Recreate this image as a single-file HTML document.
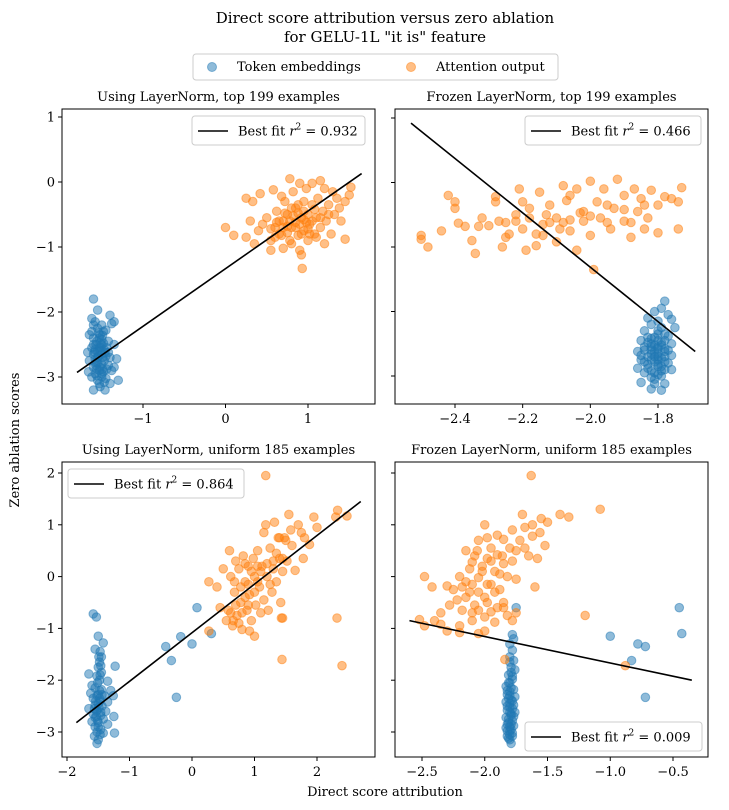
<!DOCTYPE html>
<html><head><meta charset="utf-8">
<style>
body{margin:0;background:#fff;}
svg{display:block;font-family:"DejaVu Serif","Liberation Serif",serif;}
.tk{font-size:13px;fill:#000;}
</style></head>
<body>
<svg id="fig" width="729" height="810" viewBox="0 0 729 810" xmlns="http://www.w3.org/2000/svg">
<text x="385" y="23" text-anchor="middle" font-size="15">Direct score attribution versus zero ablation</text>
<text x="385" y="42" text-anchor="middle" font-size="15">for GELU-1L "it is" feature</text>
<g>
<rect x="193" y="54" width="365" height="26" rx="3" fill="#fff" stroke="#ccc"/>
<circle cx="212" cy="67" r="4.5" fill="#1f77b4" fill-opacity="0.5" stroke="#1f77b4" stroke-opacity="0.5"/>
<text x="237" y="71" font-size="13">Token embeddings</text>
<circle cx="411" cy="67" r="4.5" fill="#ff7f0e" fill-opacity="0.5" stroke="#ff7f0e" stroke-opacity="0.5"/>
<text x="436" y="71" font-size="13">Attention output</text>
</g>
<text transform="translate(19,440) rotate(-90)" text-anchor="middle" font-size="13">Zero ablation scores</text>
<text x="385" y="796" text-anchor="middle" font-size="13">Direct score attribution</text>
</svg>
<script>
// ---- Panel 1: Using LayerNorm, top 199 ----
const p1Blue = [[-1.6,-1.8],[-1.55,-1.97],[-1.4,-2.05],[-1.35,-2.15],[-1.38,-2.18],[-1.62,-2.1],[-1.58,-2.15],[-1.6,-2.2],[-1.55,-2.25],[-1.48,-2.3],[-1.45,-2.28],[-1.52,-2.35],[-1.65,-2.35],[-1.6,-2.4],[-1.5,-2.42],[-1.42,-2.45],[-1.35,-2.5],[-1.57,-2.5],[-1.62,-2.55],[-1.53,-2.55],[-1.47,-2.58],[-1.55,-2.6],[-1.67,-2.62],[-1.6,-2.65],[-1.5,-2.65],[-1.45,-2.68],[-1.4,-2.7],[-1.32,-2.72],[-1.58,-2.72],[-1.65,-2.75],[-1.55,-2.78],[-1.5,-2.8],[-1.42,-2.82],[-1.35,-2.85],[-1.6,-2.85],[-1.53,-2.9],[-1.48,-2.92],[-1.38,-2.9],[-1.66,-2.92],[-1.58,-2.95],[-1.5,-3.0],[-1.45,-3.02],[-1.3,-3.05],[-1.55,-3.05],[-1.62,-3.0],[-1.4,-3.1],[-1.52,-3.15],[-1.6,-3.2],[-1.46,-3.2],[-1.56,-2.45],[-1.5,-2.5],[-1.54,-2.68],[-1.47,-2.75],[-1.57,-2.82],[-1.52,-2.6],[-1.44,-2.55],[-1.62,-2.3],[-1.5,-2.2],[-1.58,-2.58],[-1.49,-2.88],[-1.53,-2.4],[-1.51,-2.55],[-1.49,-2.7],[-1.55,-2.7],[-1.52,-2.85],[-1.56,-2.98],[-1.48,-2.48],[-1.46,-2.62],[-1.59,-2.62],[-1.54,-2.32],[-1.5,-2.95],[-1.57,-2.78],[-1.44,-2.88],[-1.52,-2.48],[-1.49,-2.36],[-1.56,-2.88],[-1.47,-3.08],[-1.53,-3.1],[-1.42,-2.62],[-1.6,-2.5]];
const p1Orange = [[0.0,-0.7],[0.1,-0.82],[0.25,-0.85],[0.3,-0.6],[0.35,-0.95],[0.4,-0.75],[0.45,-0.65],[0.5,-0.55],[0.55,-0.9],[0.55,-1.05],[0.6,-0.7],[0.62,-0.45],[0.65,-0.8],[0.7,-1.02],[0.7,-0.6],[0.72,-0.3],[0.75,-0.5],[0.78,-0.9],[0.8,-0.7],[0.82,-0.15],[0.85,-0.4],[0.85,-0.62],[0.88,-0.82],[0.9,-1.05],[0.92,-0.55],[0.95,-0.3],[0.95,-0.75],[0.98,-0.1],[1.0,-0.5],[1.0,-0.9],[1.02,-0.65],[1.05,-0.35],[1.05,-0.02],[1.08,-0.8],[1.1,-0.55],[1.12,-0.25],[1.15,-0.7],[1.18,-0.45],[1.2,-0.95],[1.2,-0.1],[1.22,-0.6],[1.25,-0.35],[1.28,-0.8],[1.3,-0.15],[1.32,-0.5],[1.35,-0.25],[1.38,-0.4],[1.4,-0.6],[1.45,-0.3],[1.5,-0.2],[1.52,-0.08],[1.45,-0.88],[0.92,-1.12],[0.93,-1.33],[0.25,-0.25],[0.33,-0.3],[0.42,-0.18],[0.58,-0.12],[0.78,0.05],[0.9,-0.02],[1.15,0.02],[0.68,-0.22],[0.75,-0.68],[0.88,-0.48],[1.0,-0.72],[1.1,-0.85],[0.6,-0.85],[0.8,-0.95],[0.65,-0.6],[0.95,-0.58],[0.7,-0.7],[0.78,-0.6],[0.85,-0.7],[0.9,-0.65],[0.98,-0.62],[0.82,-0.52],[0.75,-0.78],[0.92,-0.8],[1.05,-0.6],[0.72,-0.48],[0.88,-0.35],[1.08,-0.42],[0.62,-0.62],[0.68,-0.82],[0.95,-0.45],[1.15,-0.55],[1.25,-0.5],[0.8,-0.4],[0.55,-0.72],[1.02,-0.8]];
const p1Fit = [[-1.8,-2.93],[1.65,0.13]];
// ---- Panel 2: Frozen LayerNorm, top 199 ----
const p2Blue = [[-1.78,-1.84],[-1.79,-1.95],[-1.81,-2.0],[-1.77,-2.05],[-1.83,-2.1],[-1.8,-2.15],[-1.76,-2.12],[-1.82,-2.2],[-1.79,-2.25],[-1.75,-2.25],[-1.84,-2.3],[-1.8,-2.35],[-1.77,-2.38],[-1.82,-2.42],[-1.85,-2.45],[-1.79,-2.48],[-1.76,-2.5],[-1.81,-2.52],[-1.84,-2.55],[-1.78,-2.58],[-1.82,-2.6],[-1.86,-2.62],[-1.8,-2.65],[-1.76,-2.68],[-1.83,-2.7],[-1.79,-2.72],[-1.85,-2.75],[-1.81,-2.78],[-1.77,-2.8],[-1.83,-2.82],[-1.8,-2.85],[-1.86,-2.88],[-1.78,-2.9],[-1.82,-2.92],[-1.84,-2.95],[-1.79,-3.0],[-1.81,-3.05],[-1.85,-3.1],[-1.78,-3.12],[-1.82,-3.2],[-1.79,-3.22],[-1.8,-2.3],[-1.78,-2.45],[-1.8,-2.55],[-1.8,-2.75],[-1.78,-2.62],[-1.82,-2.5],[-1.81,-2.95],[-1.76,-2.9],[-1.83,-2.4],[-1.81,-2.4],[-1.79,-2.52],[-1.82,-2.66],[-1.8,-2.7],[-1.78,-2.78],[-1.83,-2.88],[-1.8,-2.98],[-1.84,-2.6],[-1.81,-2.62],[-1.79,-2.85],[-1.82,-2.55],[-1.78,-2.35],[-1.84,-2.78],[-1.8,-2.45],[-1.82,-3.02],[-1.79,-2.92],[-1.83,-2.48],[-1.81,-2.7],[-1.8,-2.58],[-1.78,-2.7],[-1.85,-2.68],[-1.77,-2.6],[-1.8,-2.82],[-1.82,-2.75],[-1.81,-3.12]];
const p2Orange = [[-2.5,-0.82],[-2.5,-0.88],[-2.48,-1.0],[-2.44,-0.75],[-2.42,-0.2],[-2.4,-0.3],[-2.4,-0.4],[-2.39,-0.63],[-2.37,-0.68],[-2.35,-0.9],[-2.34,-1.1],[-2.33,-0.68],[-2.3,-0.67],[-2.28,-0.22],[-2.28,-0.3],[-2.27,-0.6],[-2.25,-0.85],[-2.24,-0.8],[-2.22,-0.5],[-2.21,-0.1],[-2.2,-0.72],[-2.19,-1.05],[-2.18,-0.4],[-2.16,-0.8],[-2.15,-0.15],[-2.14,-0.65],[-2.12,-0.35],[-2.1,-0.55],[-2.1,-0.92],[-2.08,-0.05],[-2.07,-0.28],[-2.06,-0.75],[-2.04,-0.1],[-2.03,-0.47],[-2.02,-0.6],[-2.0,-0.82],[-2.0,0.02],[-1.98,-0.3],[-1.97,-0.55],[-1.96,-0.1],[-1.94,-0.72],[-1.93,-0.4],[-1.92,0.05],[-1.9,-0.6],[-1.9,-0.2],[-1.88,-0.85],[-1.87,-0.1],[-1.86,-0.45],[-1.85,-0.25],[-1.84,-0.72],[-1.82,-0.12],[-1.8,-0.35],[-1.8,-0.78],[-1.78,-0.22],[-1.76,-0.25],[-1.74,-0.3],[-1.74,-0.72],[-1.73,-0.08],[-1.99,-1.35],[-2.04,-1.05],[-2.16,-0.98],[-2.26,-1.0],[-2.06,-0.58],[-1.95,-0.62],[-2.12,-0.62],[-2.22,-0.6],[-1.83,-0.55],[-1.88,-0.62],[-2.32,-0.55],[-2.25,-0.62],[-2.18,-0.55],[-2.13,-0.5],[-2.08,-0.62],[-2.02,-0.45],[-2.09,-0.72],[-2.14,-0.82],[-2.2,-0.3],[-2.06,-0.2],[-1.95,-0.35],[-1.84,-0.35],[-1.9,-0.42],[-2.0,-0.52]];
const p2Fit = [[-2.53,0.92],[-1.69,-2.62]];
// ---- Panel 3: Using LayerNorm, uniform 185 ----
const p3Blue = [[-1.58,-0.72],[-1.53,-0.78],[-1.5,-1.15],[-1.42,-1.28],[-1.55,-1.4],[-1.47,-1.45],[-1.45,-1.55],[-1.48,-1.65],[-1.5,-1.75],[-1.23,-1.73],[-1.45,-1.85],[-1.65,-1.88],[-1.52,-1.92],[-1.48,-2.0],[-1.35,-2.02],[-1.6,-2.1],[-1.55,-2.15],[-1.45,-2.18],[-1.3,-2.2],[-1.62,-2.25],[-1.5,-2.28],[-1.4,-2.3],[-1.26,-2.3],[-1.58,-2.35],[-1.47,-2.4],[-1.35,-2.42],[-1.55,-2.48],[-1.44,-2.5],[-1.65,-2.55],[-1.52,-2.58],[-1.38,-2.6],[-1.58,-2.65],[-1.46,-2.68],[-1.25,-2.7],[-1.55,-2.72],[-1.42,-2.75],[-1.6,-2.8],[-1.5,-2.82],[-1.35,-2.85],[-1.55,-2.9],[-1.46,-2.95],[-1.52,-3.0],[-1.42,-3.02],[-1.24,-3.02],[-1.56,-3.08],[-1.5,-3.15],[-1.52,-3.22],[-1.5,-2.45],[-1.53,-2.6],[-1.48,-2.2],[-1.52,-2.3],[-1.49,-2.52],[-1.46,-2.62],[-1.53,-2.7],[-1.5,-2.9],[-1.48,-2.35],[-1.51,-2.05],[-1.47,-1.9],[-1.49,-1.55],[-1.46,-1.72],[-1.54,-2.4],[-1.44,-2.28],[-1.51,-2.78],[-1.47,-3.05],[-1.56,-2.55],[-0.42,-1.35],[-0.33,-1.62],[-0.18,-1.16],[0.0,-1.3],[0.08,-0.6],[0.31,-1.1],[-0.25,-2.33]];
const p3Orange = [[1.18,1.95],[0.27,-1.05],[0.27,-0.1],[0.4,-0.2],[0.45,-0.6],[0.5,0.15],[0.55,-0.85],[0.58,-0.65],[0.6,0.5],[0.62,0.0],[0.65,-0.95],[0.68,-0.3],[0.7,0.3],[0.72,-0.75],[0.75,0.15],[0.78,-0.5],[0.8,-1.02],[0.82,0.4],[0.85,-0.1],[0.88,-0.65],[0.9,0.2],[0.92,-0.35],[0.95,-0.85],[0.98,0.35],[1.0,-1.15],[1.0,0.0],[1.02,-0.55],[1.05,0.5],[1.08,-0.2],[1.1,-0.7],[1.12,0.2],[1.15,0.85],[1.15,-0.45],[1.18,1.0],[1.2,0.0],[1.22,-0.65],[1.25,0.55],[1.28,-0.3],[1.3,0.3],[1.32,1.05],[1.35,-0.1],[1.38,0.75],[1.4,0.35],[1.42,-0.5],[1.45,0.1],[1.45,-0.8],[1.5,0.7],[1.52,0.3],[1.55,1.2],[1.58,0.9],[1.6,0.6],[1.65,0.12],[1.7,1.0],[1.75,0.85],[1.78,0.35],[1.8,0.75],[1.88,0.62],[1.95,1.15],[2.0,0.95],[2.3,1.15],[2.33,1.28],[2.48,1.17],[2.32,-0.8],[2.4,-1.72],[1.44,-1.6],[1.43,-0.8],[0.92,-1.05],[0.68,-0.1],[1.05,0.2],[0.85,0.25],[0.62,-0.7],[0.66,-0.85],[0.7,-0.55],[0.75,-0.9],[0.8,-0.7],[0.85,-0.4],[0.9,-0.15],[0.95,0.1],[1.0,-0.3],[1.05,-0.1],[1.1,0.1],[1.2,0.25],[1.3,0.15],[1.35,0.45],[1.45,0.35],[1.25,-0.15],[0.9,-0.55],[0.78,-0.2],[1.4,0.75],[1.48,0.75]];
const p3Fit = [[-1.85,-2.82],[2.7,1.45]];
// ---- Panel 4: Frozen LayerNorm, uniform 185 ----
const p4Blue = [[-1.75,-0.6],[-1.78,-1.12],[-1.77,-1.2],[-1.8,-1.3],[-1.78,-1.42],[-1.8,-1.55],[-1.77,-1.62],[-1.79,-1.75],[-1.76,-1.8],[-1.81,-1.9],[-1.78,-1.98],[-1.8,-2.05],[-1.83,-2.12],[-1.77,-2.18],[-1.8,-2.22],[-1.82,-2.28],[-1.76,-2.32],[-1.79,-2.38],[-1.83,-2.42],[-1.77,-2.48],[-1.8,-2.52],[-1.82,-2.58],[-1.76,-2.62],[-1.79,-2.68],[-1.83,-2.72],[-1.78,-2.78],[-1.81,-2.82],[-1.77,-2.88],[-1.83,-2.92],[-1.8,-2.98],[-1.78,-3.02],[-1.82,-3.08],[-1.8,-3.15],[-1.79,-3.22],[-1.8,-2.45],[-1.79,-2.65],[-1.81,-2.35],[-1.78,-2.55],[-1.81,-2.05],[-1.79,-2.15],[-1.8,-2.3],[-1.78,-2.4],[-1.82,-2.5],[-1.8,-2.62],[-1.81,-2.75],[-1.79,-2.85],[-1.8,-2.9],[-1.82,-2.98],[-1.78,-3.08],[-1.81,-3.12],[-1.79,-1.85],[-1.8,-1.65],[-1.78,-1.92],[-1.82,-2.2],[-1.77,-2.7],[-1.82,-2.85],[-1.79,-2.95],[-1.8,-3.05],[-0.45,-0.6],[-0.43,-1.1],[-0.72,-1.35],[-0.78,-1.3],[-1.0,-1.15],[-0.83,-1.62],[-0.72,-2.33]];
const p4Orange = [[-1.63,1.95],[-1.08,1.3],[-1.4,1.2],[-1.33,1.15],[-1.7,1.2],[-1.55,1.12],[-1.5,1.05],[-1.62,1.0],[-1.68,0.95],[-2.0,1.0],[-1.78,0.9],[-1.9,0.8],[-1.56,0.85],[-1.62,0.78],[-1.98,0.75],[-2.05,0.7],[-1.85,0.72],[-1.52,0.6],[-2.15,0.5],[-1.75,0.5],[-2.08,0.4],[-1.98,0.35],[-1.9,0.42],[-1.65,0.4],[-1.58,0.35],[-1.78,0.3],[-2.1,0.28],[-1.85,0.25],[-2.02,0.2],[-1.92,0.1],[-2.48,0.0],[-2.2,0.0],[-2.05,-0.02],[-1.82,0.0],[-1.75,-0.05],[-1.6,-0.2],[-2.42,-0.2],[-2.3,-0.18],[-2.18,-0.2],[-1.95,-0.15],[-1.88,-0.25],[-2.12,-0.3],[-2.0,-0.4],[-2.28,-0.55],[-2.22,-0.45],[-2.08,-0.55],[-1.98,-0.5],[-1.9,-0.6],[-1.85,-0.5],[-2.35,-0.7],[-2.18,-0.65],[-2.05,-0.65],[-1.95,-0.68],[-1.82,-0.75],[-1.75,-0.7],[-1.2,-0.75],[-2.48,-0.95],[-2.4,-0.85],[-2.3,-1.05],[-2.2,-0.95],[-2.1,-0.85],[-2.0,-1.05],[-1.92,-0.88],[-1.78,-0.85],[-2.52,-0.83],[-2.35,-0.92],[-2.2,-1.08],[-2.05,-1.1],[-1.84,-1.6],[-0.88,-1.72],[-2.15,-0.1],[-1.68,0.55],[-2.06,0.5],[-2.02,0.1],[-1.95,0.3],[-1.88,0.05],[-1.92,-0.3],[-2.1,-0.15],[-2.15,-0.4],[-2.05,-0.3],[-1.98,-0.15],[-1.86,0.4],[-1.8,0.55],[-1.72,0.7],[-2.12,0.15],[-2.25,-0.25],[-2.0,-0.78],[-2.1,-0.7],[-1.95,0.55],[-1.85,-0.6]];
const p4Fit = [[-2.6,-0.85],[-0.35,-2.0]];

const NS = 'http://www.w3.org/2000/svg';
const svg = document.getElementById('fig');
function mk(tag, attrs, parent){
  const e = document.createElementNS(NS, tag);
  for (const k in attrs) e.setAttribute(k, attrs[k]);
  (parent||svg).appendChild(e);
  return e;
}
function linScale(d0,d1,r0,r1){ return v => r0 + (v-d0)*(r1-r0)/(d1-d0); }

const panels = [
  {name:'top-left', title:'Using LayerNorm, top 199 examples', box:[62,109,375,404],
   sx:linScale(-1,1,143,308), sy:linScale(1,-3,117,377),
   xt:[-1,0,1], xl:['\u22121','0','1'], yt:[1,0,-1,-2,-3], yl:['1','0','\u22121','\u22122','\u22123'], showY:true,
   blue:p1Blue, orange:p1Orange, fit:p1Fit, r2:'0.932', leg:[192,116,173]},
  {name:'top-right', title:'Frozen LayerNorm, top 199 examples', box:[395,109,708,404],
   sx:linScale(-2.4,-1.8,455,658), sy:linScale(1,-3,118,376),
   xt:[-2.4,-2.2,-2.0,-1.8], xl:['\u22122.4','\u22122.2','\u22122.0','\u22121.8'], yt:[1,0,-1,-2,-3], yl:[], showY:false,
   blue:p2Blue, orange:p2Orange, fit:p2Fit, r2:'0.466', leg:[525,116,176]},
  {name:'bottom-left', title:'Using LayerNorm, uniform 185 examples', box:[62,462,375,757],
   sx:linScale(-2,2,67,317), sy:linScale(2,-3,473,732),
   xt:[-2,-1,0,1,2], xl:['\u22122','\u22121','0','1','2'], yt:[2,1,0,-1,-2,-3], yl:['2','1','0','\u22121','\u22122','\u22123'], showY:true,
   blue:p3Blue, orange:p3Orange, fit:p3Fit, r2:'0.864', leg:[68,469,176]},
  {name:'bottom-right', title:'Frozen LayerNorm, uniform 185 examples', box:[395,462,708,757],
   sx:linScale(-2.5,-0.5,422,673), sy:linScale(2,-3,473,732),
   xt:[-2.5,-2.0,-1.5,-1.0,-0.5], xl:['\u22122.5','\u22122.0','\u22121.5','\u22121.0','\u22120.5'], yt:[2,1,0,-1,-2,-3], yl:[], showY:false,
   blue:p4Blue, orange:p4Orange, fit:p4Fit, r2:'0.009', leg:[525,722,177]}
];

panels.forEach(p => {
  const g = mk('g', {});
  
  
  const [x0,y0,x1,y1] = p.box;
  const t = mk('text', {x:(x0+x1)/2, y:y0-8, 'text-anchor':'middle', 'font-size':'13'}, g);
  t.textContent = p.title;
  
  
  const cid = 'clip-' + p.name;
  const cp = mk('clipPath', {id:cid}, g);
  mk('rect', {x:x0, y:y0, width:x1-x0, height:y1-y0}, cp);
  const pts = mk('g', {'clip-path':'url(#'+cid+')'}, g);
  p.blue.forEach(d => {
    const c = mk('circle', {cx:p.sx(d[0]), cy:p.sy(d[1]), r:4.3, fill:'#1f77b4', 'fill-opacity':0.5, stroke:'#1f77b4', 'stroke-opacity':0.5, 'stroke-width':1}, pts);
    
    
  });
  p.orange.forEach(d => {
    const c = mk('circle', {cx:p.sx(d[0]), cy:p.sy(d[1]), r:4.3, fill:'#ff7f0e', 'fill-opacity':0.5, stroke:'#ff7f0e', 'stroke-opacity':0.5, 'stroke-width':1}, pts);
    
    
  });
  const ln = mk('line', {x1:p.sx(p.fit[0][0]), y1:p.sy(p.fit[0][1]), x2:p.sx(p.fit[1][0]), y2:p.sy(p.fit[1][1]), stroke:'#000', 'stroke-width':1.6}, pts);
  
  
  const fr = mk('rect', {x:x0, y:y0, width:x1-x0, height:y1-y0, fill:'none', stroke:'#000', 'stroke-width':1}, g);
  
  
  p.xt.forEach((v,i) => {
    const x = p.sx(v);
    mk('line', {x1:x, y1:y1, x2:x, y2:y1+4, stroke:'#000'}, g);
    const tt = mk('text', {x:x, y:y1+19, 'text-anchor':'middle', class:'tk'}, g);
    tt.textContent = p.xl[i];
    
    
  });
  p.yt.forEach((v,i) => {
    const y = p.sy(v);
    mk('line', {x1:x0-4, y1:y, x2:x0, y2:y, stroke:'#000'}, g);
    if (p.showY) {
      const tt = mk('text', {x:x0-7, y:y+4.5, 'text-anchor':'end', class:'tk'}, g);
      tt.textContent = p.yl[i];
      
      
    }
  });
  const [lx,ly,lw] = p.leg;
  const lg = mk('g', {}, g);
  
  
  mk('rect', {x:lx, y:ly, width:lw, height:29, rx:3, fill:'#fff', 'fill-opacity':0.8, stroke:'#ccc'}, lg);
  mk('line', {x1:lx+6, y1:ly+15, x2:lx+36, y2:ly+15, stroke:'#000', 'stroke-width':1.6}, lg);
  const lt = mk('text', {x:lx+46, y:ly+19.5, 'font-size':'13'}, lg);
  lt.innerHTML = 'Best fit <tspan font-style="italic">r</tspan><tspan font-size="9" dy="-6">2</tspan><tspan dy="6"> = ' + p.r2 + '</tspan>';
});
</script>
</body></html>
